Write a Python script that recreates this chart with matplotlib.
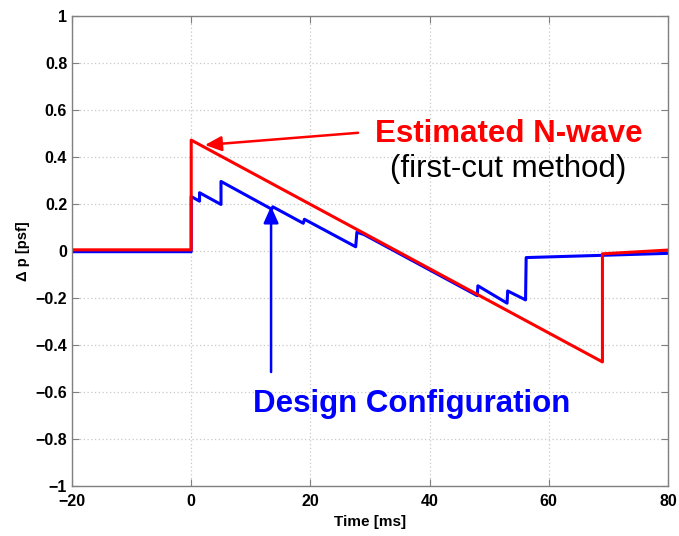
import numpy as np
import matplotlib.pyplot as plt

plt.rcParams['font.family'] = ['Liberation Sans', 'DejaVu Sans']

# estimated N-wave (first-cut method)
nwave_t = [-20, 0, 0, 69, 69, 80]
nwave_p = [0.005, 0.005, 0.472, -0.472, -0.012, 0.004]

# design configuration signature
design_t = [-20, 0, 0, 1.4, 1.4, 5.0, 5.0, 13.5, 13.7, 18.8, 19.0, 27.6, 27.8,
            29.0, 48.0, 48.1, 53.0, 53.1, 56.1, 56.2, 80]
design_p = [-0.003, -0.003, 0.232, 0.212, 0.248, 0.198, 0.296, 0.178, 0.188, 0.118, 0.135,
            0.018, 0.08, 0.07, -0.19, -0.148, -0.222, -0.17, -0.208, -0.028, -0.01]

fig = plt.figure(figsize=(6.79, 5.36), dpi=100)
ax = fig.add_axes([72/679, 50/536, 596/679, 470/536])

ax.plot(design_t, design_p, color='#0000ff', lw=2.2)
ax.plot(nwave_t, nwave_p, color='#ff0000', lw=2.2)

ax.set_xlim(-20, 80)
ax.set_ylim(-1, 1)
ax.set_xticks(np.arange(-20, 81, 20))
ax.set_yticks(np.arange(-1, 1.01, 0.2))
ax.set_yticklabels(['\u22121', '\u22120.8', '\u22120.6', '\u22120.4', '\u22120.2', '0',
                    '0.2', '0.4', '0.6', '0.8', '1'])
ax.grid(True, color='#c8c8c8', linestyle=(0, (1, 2)), lw=0.9)
ax.tick_params(direction='in', top=True, right=True, length=5, color='#808080',
               labelsize=11.5)
ax.tick_params(axis='x', pad=6)
for lab in ax.get_xticklabels() + ax.get_yticklabels():
    lab.set_fontweight('bold')
for s in ax.spines.values():
    s.set_color('#808080')
    s.set_linewidth(1.0)

ax.set_xlabel('Time [ms]', fontsize=11, fontweight='bold', labelpad=4)
ax.set_ylabel('\u0394 p [psf]', fontsize=10.5, fontweight='bold', labelpad=4)

ax.annotate('', xy=(2.3, 0.451), xytext=(28, 0.503),
            arrowprops=dict(arrowstyle='-|>,head_length=1.0,head_width=0.45',
                            color='#ff0000', lw=1.8, shrinkA=0, shrinkB=0))
ax.text(30.8, 0.50, 'Estimated N-wave', color='#ff0000', fontsize=22.5,
        fontweight='bold', ha='left', va='center')
ax.text(33.3, 0.35, '(first-cut method)', color='black', fontsize=22.5,
        ha='left', va='center')

ax.annotate('', xy=(13.4, 0.19), xytext=(13.4, -0.515),
            arrowprops=dict(arrowstyle='-|>,head_length=1.0,head_width=0.45',
                            color='#0000ff', lw=1.8, shrinkA=0, shrinkB=0))
ax.text(37.0, -0.65, 'Design Configuration', color='#0000ff', fontsize=22.5,
        fontweight='bold', ha='center', va='center')

fig.savefig('out.png', dpi=100)
